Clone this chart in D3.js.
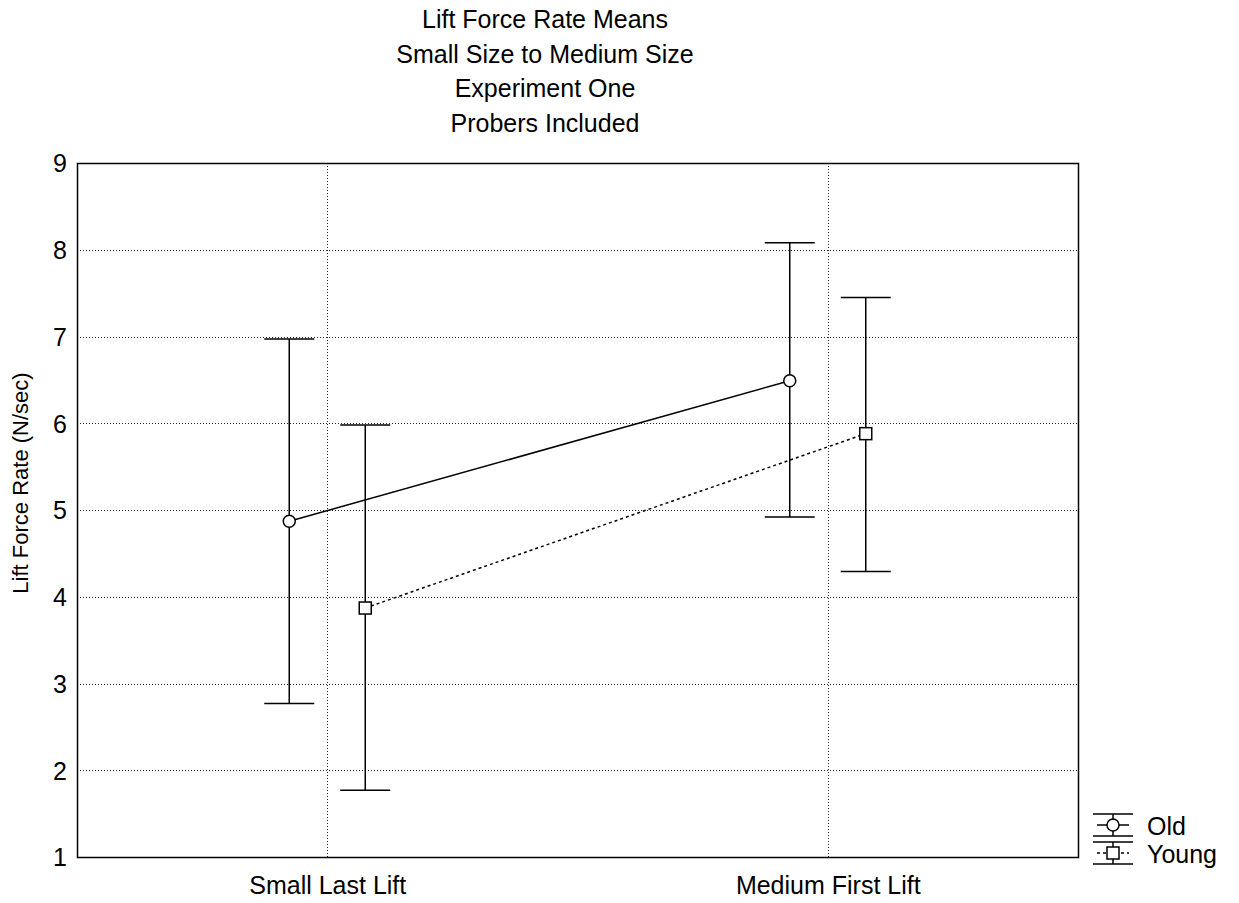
<!DOCTYPE html>
<html>
<head>
<meta charset="utf-8">
<script src="https://cdn.jsdelivr.net/npm/d3@7"></script>
<style>
  html, body { margin: 0; padding: 0; background: #fff; }
  svg { display: block; font-family: "Liberation Sans", Arial, sans-serif; }
</style>
</head>
<body>
<svg id="chart" width="1239" height="903"></svg>
<script>
// Lift force rate means with error bars, by group and lift condition
const titleLines = ["Lift Force Rate Means", "Small Size to Medium Size", "Experiment One", "Probers Included"];
const categories = ["Small Last Lift", "Medium First Lift"];
const groups = ["Old", "Young"];
const yTicks = [1, 2, 3, 4, 5, 6, 7, 8, 9];

const oldMeans  = [4.87, 6.49];
const oldUpper  = [6.97, 8.08];
const oldLower  = [2.77, 4.92];
const youngMeans = [3.87, 5.88];
const youngUpper = [5.98, 7.45];
const youngLower = [1.77, 4.29];

const series = [
  { name: groups[0], means: oldMeans, upper: oldUpper, lower: oldLower, symbol: "circle", dash: null, offset: -38 },
  { name: groups[1], means: youngMeans, upper: youngUpper, lower: youngLower, symbol: "square", dash: "3,3", offset: 38 }
];

const svg = d3.select("#chart");
const plot = { left: 77, right: 1078, top: 163, bottom: 857 };
const fontSize = 25;
const axisTitleSize = 22;
const fontFamily = "Liberation Sans, Arial, sans-serif";

const x = d3.scalePoint().domain(categories).range([plot.left, plot.right]).padding(0.5);
const y = d3.scaleLinear().domain([1, 9]).range([plot.bottom, plot.top]);

// grid
const grid = svg.append("g").attr("stroke", "#222").attr("stroke-width", 1).attr("stroke-dasharray", "1,2");
grid.selectAll("line.h").data(yTicks.slice(1, -1)).join("line")
  .attr("x1", plot.left).attr("x2", plot.right)
  .attr("y1", d => Math.round(y(d)) + 0.5).attr("y2", d => Math.round(y(d)) + 0.5);
grid.selectAll("line.v").data(categories).join("line")
  .attr("y1", plot.top).attr("y2", plot.bottom)
  .attr("x1", d => Math.round(x(d)) + 0.5).attr("x2", d => Math.round(x(d)) + 0.5);

// axes (labels only, frame drawn separately)
const yAxis = svg.append("g").attr("transform", `translate(${plot.left - 10},0)`)
  .call(d3.axisLeft(y).tickValues(yTicks).tickSize(0).tickPadding(0).tickFormat(d3.format("d")));
yAxis.select(".domain").remove();
yAxis.selectAll("text").attr("font-size", fontSize).attr("fill", "#000")
  .attr("font-family", fontFamily).attr("dy", "0.35em");

const xAxis = svg.append("g").attr("transform", `translate(0,${plot.bottom + 37})`)
  .call(d3.axisBottom(x).tickSize(0).tickPadding(0));
xAxis.select(".domain").remove();
xAxis.selectAll("text").attr("font-size", fontSize).attr("fill", "#000")
  .attr("font-family", fontFamily).attr("dy", "0");

// frame
svg.append("rect")
  .attr("x", plot.left + 0.5).attr("y", plot.top + 0.5)
  .attr("width", plot.right - plot.left).attr("height", plot.bottom - plot.top)
  .attr("fill", "none").attr("stroke", "#000").attr("stroke-width", 1.5);

const capHalf = 25;

series.forEach(s => {
  const g = svg.append("g");
  const px = d => x(d) + s.offset;
  // error bars
  categories.forEach((c, i) => {
    g.append("line").attr("x1", px(c)).attr("x2", px(c))
      .attr("y1", y(s.upper[i])).attr("y2", y(s.lower[i]))
      .attr("stroke", "#000").attr("stroke-width", 1.5);
    [s.upper[i], s.lower[i]].forEach(v => {
      g.append("line").attr("x1", px(c) - capHalf).attr("x2", px(c) + capHalf)
        .attr("y1", y(v)).attr("y2", y(v))
        .attr("stroke", "#000").attr("stroke-width", 1.5);
    });
  });
  // connecting line
  g.append("path")
    .datum(categories.map((c, i) => [px(c), y(s.means[i])]))
    .attr("d", d3.line())
    .attr("fill", "none").attr("stroke", "#000").attr("stroke-width", 1.5)
    .attr("stroke-dasharray", s.dash);
  // markers
  categories.forEach((c, i) => {
    if (s.symbol === "circle") {
      g.append("circle").attr("cx", px(c)).attr("cy", y(s.means[i])).attr("r", 6)
        .attr("fill", "#fff").attr("stroke", "#000").attr("stroke-width", 1.5);
    } else {
      g.append("rect").attr("x", px(c) - 6).attr("y", y(s.means[i]) - 6)
        .attr("width", 12).attr("height", 12)
        .attr("fill", "#fff").attr("stroke", "#000").attr("stroke-width", 1.5);
    }
  });
});

// title
svg.append("g").selectAll("text").data(titleLines).join("text")
  .attr("x", 545).attr("y", (d, i) => 28 + i * 34.5)
  .attr("text-anchor", "middle").attr("font-size", fontSize).attr("fill", "#000")
  .text(d => d);

// y-axis label
svg.append("text")
  .attr("transform", "translate(28,483) rotate(-90)")
  .attr("text-anchor", "middle").attr("font-size", axisTitleSize).attr("fill", "#000")
  .text("Lift Force Rate (N/sec)");

// legend
const legend = svg.append("g");
const lx0 = 1093, lx1 = 1133, lxc = 1113;
series.forEach((s, i) => {
  const cy = 825 + i * 28;
  const top = cy - 11, bot = cy + 11;
  const lg = legend.append("g");
  lg.append("line").attr("x1", lxc).attr("x2", lxc).attr("y1", top).attr("y2", bot)
    .attr("stroke", "#000").attr("stroke-width", 1.5);
  [top, bot].forEach(yy => lg.append("line").attr("x1", lx0).attr("x2", lx1)
    .attr("y1", yy).attr("y2", yy).attr("stroke", "#000").attr("stroke-width", 1.5));
  lg.append("line").attr("x1", lx0 + 4).attr("x2", lx1 - 4).attr("y1", cy).attr("y2", cy)
    .attr("stroke", "#000").attr("stroke-width", 1.5).attr("stroke-dasharray", s.dash);
  if (s.symbol === "circle") {
    lg.append("circle").attr("cx", lxc).attr("cy", cy).attr("r", 6)
      .attr("fill", "#fff").attr("stroke", "#000").attr("stroke-width", 1.5);
  } else {
    lg.append("rect").attr("x", lxc - 6).attr("y", cy - 6).attr("width", 12).attr("height", 12)
      .attr("fill", "#fff").attr("stroke", "#000").attr("stroke-width", 1.5);
  }
  lg.append("text").attr("x", 1147).attr("y", cy + 1).attr("dy", "0.35em")
    .attr("font-size", fontSize).attr("fill", "#000").text(s.name);
});
</script>
</body>
</html>
